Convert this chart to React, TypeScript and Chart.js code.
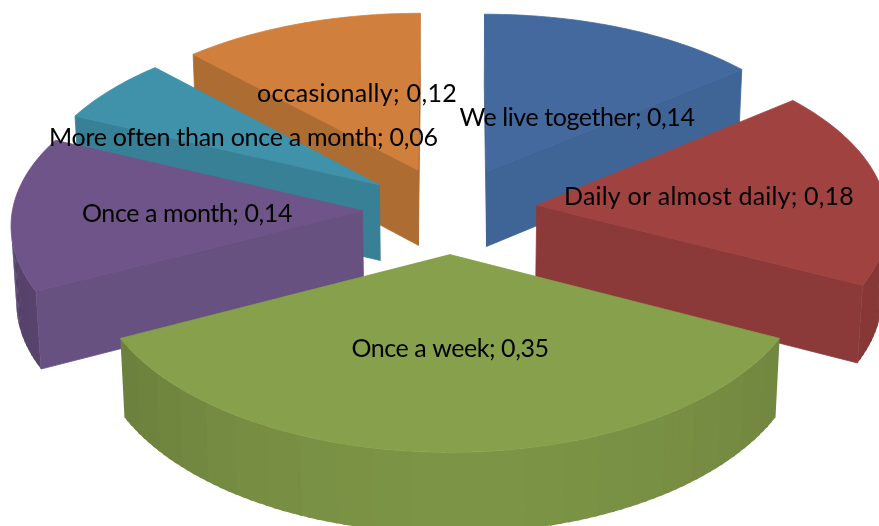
import React, { useEffect, useRef } from "react";
import { Chart, registerables } from "chart.js";

Chart.register(...registerables);

const categories = [
  "We live together",
  "Daily or almost daily",
  "Once a week",
  "Once a month",
  "More often than once a month",
  "occasionally",
];
const values = [0.14, 0.18, 0.35, 0.14, 0.06, 0.12];
const valueLabels = ["0,14", "0,18", "0,35", "0,14", "0,06", "0,12"];
const topColors = ["#44699f", "#a04340", "#86a04b", "#6e5488", "#3f92aa", "#d07f3c"];
const faceColors = ["#3f6596", "#8b3a39", "#7c9647", "#675180", "#388095", "#ad6c31"];

// Projection of the pie's plane
const CX = 450;
const CY = 210;
const FX = 350;
const FY = 175;
const PERSP_X = 0.07;
const PERSP_Y = 0.078;
const EXPLODE = 0.25;
const DEPTH = 77;
const DEPTH_W = 0.012;
const DRAW_ORDER = [5, 0, 4, 3, 1, 2];
const LABEL_CENTERS: [number, number][] = [
  [577, 118],
  [709, 197],
  [450, 349],
  [187, 214],
  [243, 138],
  [357, 94],
];
const LABEL_WIDTHS = [235, 290, 197, 210, 388, 200];

type P = [number, number];

function project(u: number, t: number, bottom: boolean): P {
  const extra = bottom ? DEPTH_W : 0;
  const wx = 1 - PERSP_X * t + extra;
  const wy = 1 - PERSP_Y * t + extra;
  return [CX + (FX * u) / wx, CY + (FY * t + (bottom ? DEPTH : 0)) / wy];
}

function shade(hex: string, f: number): string {
  const n = parseInt(hex.slice(1), 16);
  const c = (s: number) => Math.round(((n >> s) & 255) * f);
  return `rgb(${c(16)},${c(8)},${c(0)})`;
}

function area(pts: P[]): number {
  let s = 0;
  pts.forEach((p, i) => {
    const q = pts[(i + 1) % pts.length];
    s += p[0] * q[1] - q[0] * p[1];
  });
  return s;
}

function fillPoly(ctx: CanvasRenderingContext2D, pts: P[], color: string, edge = false) {
  ctx.beginPath();
  pts.forEach((p, i) => (i ? ctx.lineTo(p[0], p[1]) : ctx.moveTo(p[0], p[1])));
  ctx.closePath();
  ctx.fillStyle = color;
  ctx.fill();
  if (edge) {
    ctx.strokeStyle = color;
    ctx.lineWidth = 0.8;
    ctx.stroke();
  }
}

const pie3d = {
  id: "pie3d",
  beforeDatasetsDraw(chart: any) {
    const ctx: CanvasRenderingContext2D = chart.ctx;
    const arcs = chart.getDatasetMeta(0).data;
    ctx.save();
    ctx.lineJoin = "round";
    DRAW_ORDER.forEach((i) => {
      const arc = arcs[i];
      const a = arc.startAngle + Math.PI / 2;
      const b = arc.endAngle + Math.PI / 2;
      const mid = (a + b) / 2;
      const u0 = EXPLODE * Math.sin(mid);
      const t0 = -EXPLODE * Math.cos(mid);
      const rim = (th: number, bottom: boolean) =>
        project(u0 + Math.sin(th), t0 - Math.cos(th), bottom);
      const centerTop = project(u0, t0, false);
      const centerBot = project(u0, t0, true);
      const top = topColors[i];

      // outer wall, in wide bands that overlap so no seams show
      const steps = Math.max(2, Math.ceil((b - a) / (Math.PI / 30)));
      const fine = 4;
      for (let s = 0; s < steps; s++) {
        const t1 = a + ((b - a) * s) / steps;
        const t2 = a + ((b - a) * (s + 1)) / steps;
        const m = (t1 + t2) / 2;
        const sn = Math.sin(m);
        const fade = sn < 0 ? 0.155 : 0.1;
        const color = shade(top, 0.925 - fade * sn * sn);
        for (let k = 0; k < fine; k++) {
          const k1 = t1 + ((t2 - t1) * k) / fine;
          const k2 = Math.min(b, t1 + ((t2 - t1) * (k + 1.4)) / fine);
          const q: P[] = [rim(k1, false), rim(k2, false), rim(k2, true), rim(k1, true)];
          if (area(q) < 0) fillPoly(ctx, q, color);
        }
      }
      // cut faces
      const f1: P[] = [centerTop, rim(a, false), rim(a, true), centerBot];
      const f2: P[] = [rim(b, false), centerTop, centerBot, rim(b, true)];
      if (area(f1) < 0) fillPoly(ctx, f1, faceColors[i], true);
      if (area(f2) < 0) fillPoly(ctx, f2, faceColors[i], true);

      // top surface
      const pts: P[] = [centerTop];
      const n = Math.ceil(((b - a) * 180) / Math.PI);
      for (let s = 0; s <= n; s++) pts.push(rim(a + ((b - a) * s) / n, false));
      fillPoly(ctx, pts, top, true);
    });
    ctx.restore();
    return false;
  },
  afterDraw(chart: any) {
    const ctx: CanvasRenderingContext2D = chart.ctx as any;
    ctx.save();
    ctx.font = '25px "Lato"';
    ctx.fillStyle = "#000000";
    ctx.textAlign = "left";
    ctx.textBaseline = "middle";
    categories.forEach((c, i) => {
      const text = `${c}; ${valueLabels[i]}`;
      const [x, y] = LABEL_CENTERS[i];
      (ctx as any).letterSpacing = "0px";
      const w = ctx.measureText(text).width;
      const target = LABEL_WIDTHS[i];
      (ctx as any).letterSpacing = `${(target - w) / text.length}px`;
      ctx.fillText(text, x - target / 2, y);
    });
    ctx.restore();
  },
};

export default function App() {
  const ref = useRef<HTMLCanvasElement | null>(null);
  useEffect(() => {
    const chart = new Chart(ref.current!, {
      type: "pie",
      data: {
        labels: categories,
        datasets: [{ data: values, backgroundColor: topColors, borderWidth: 0 }],
      },
      options: {
        responsive: false,
        animation: false,
        plugins: { legend: { display: false }, tooltip: { enabled: false } },
      },
      plugins: [pie3d],
    } as any);
    return () => chart.destroy();
  }, []);
  return (
    <div style={{ position: "fixed", left: 0, top: 0, width: 879, height: 526, background: "#fff" }}>
      <canvas ref={ref} width={879} height={526} style={{ display: "block" }} />
    </div>
  );
}
